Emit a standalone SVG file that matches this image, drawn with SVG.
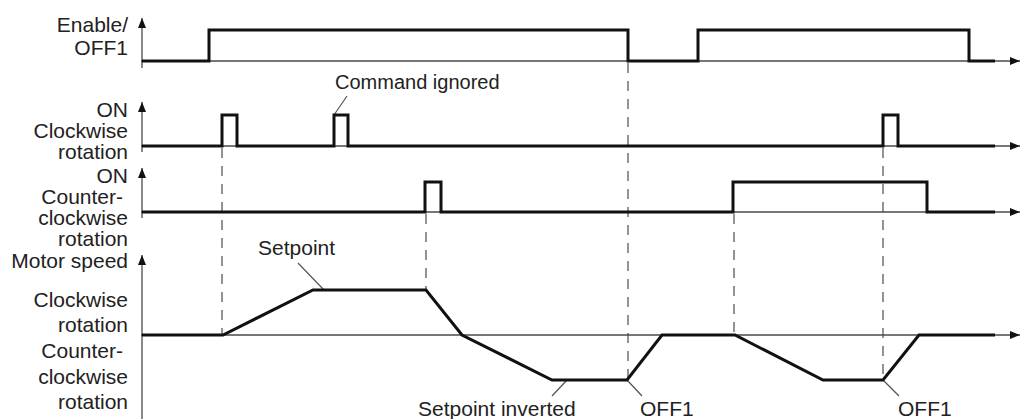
<svg xmlns="http://www.w3.org/2000/svg" width="1021" height="419" viewBox="0 0 1021 419">
<style>
.ax{stroke:#4a4a4a;stroke-width:1.3;fill:none}
.sig{stroke:#111;stroke-width:3;fill:none;stroke-linejoin:miter}
.dash{stroke:#707070;stroke-width:1.5;stroke-dasharray:10 8;fill:none}
.lead{stroke:#555;stroke-width:1.2;fill:none}
text{font-family:"Liberation Sans",Arial,sans-serif;font-size:21px;fill:#222}
.lbl{text-anchor:end}
</style>
<defs>
<marker id="arr" viewBox="0 0 10 8" refX="10" refY="4" markerWidth="10" markerHeight="8" markerUnits="userSpaceOnUse" orient="auto">
<path d="M0,0 L10,4 L0,8 z" fill="#111"/>
</marker>
</defs>
<rect width="1021" height="419" fill="#fff"/>
<g id="connectors">
<line class="dash" x1="222" y1="148" x2="222" y2="335"/>
<line class="dash" x1="426" y1="214" x2="426" y2="290"/>
<line class="dash" x1="628" y1="63" x2="628" y2="380"/>
<line class="dash" x1="734" y1="214" x2="734" y2="335"/>
<line class="dash" x1="883" y1="148" x2="883" y2="380"/>
<line class="lead" x1="347" y1="96" x2="334" y2="115"/>
<line class="lead" x1="298" y1="263" x2="324" y2="290"/>
<line class="lead" x1="567" y1="380" x2="552" y2="396"/>
<line class="lead" x1="627" y1="380" x2="642" y2="396"/>
<line class="lead" x1="883" y1="380" x2="899" y2="396"/>
</g>
<g id="enable">
<line class="ax" x1="142" y1="68" x2="142" y2="18" marker-end="url(#arr)"/>
<line class="ax" x1="141" y1="61" x2="1020" y2="61" marker-end="url(#arr)"/>
<polyline class="sig" points="142,61 209,61 209,30 628,30 628,61 698,61 698,30 969,30 969,61 995,61"/>
<text class="lbl" x="128" y="32">Enable/</text>
<text class="lbl" x="128" y="55">OFF1</text>
</g>
<g id="cw">
<line class="ax" x1="142" y1="152" x2="142" y2="102" marker-end="url(#arr)"/>
<line class="ax" x1="141" y1="146" x2="1020" y2="146" marker-end="url(#arr)"/>
<polyline class="sig" points="142,146 222,146 222,115 237,115 237,146 334,146 334,115 348,115 348,146 883,146 883,115 898,115 898,146 995,146"/>
<text class="lbl" x="128" y="117">ON</text>
<text class="lbl" x="128" y="138">Clockwise</text>
<text class="lbl" x="128" y="159">rotation</text>
<text x="335" y="89" style="font-size:20px">Command ignored</text>
</g>
<g id="ccw">
<line class="ax" x1="142" y1="218" x2="142" y2="168" marker-end="url(#arr)"/>
<line class="ax" x1="141" y1="212" x2="1020" y2="212" marker-end="url(#arr)"/>
<polyline class="sig" points="142,212 425,212 425,182 441,182 441,212 733,212 733,182 927,182 927,212 995,212"/>
<text class="lbl" x="128" y="183">ON</text>
<text class="lbl" x="123" y="204">Counter-</text>
<text class="lbl" x="128" y="225">clockwise</text>
<text class="lbl" x="128" y="246">rotation</text>
</g>
<g id="speed">
<line class="ax" x1="142" y1="419" x2="142" y2="255" marker-end="url(#arr)"/>
<line class="ax" x1="141" y1="335" x2="1020" y2="335" marker-end="url(#arr)"/>
<polyline class="sig" points="142,335 223,335 313,290 426,290 462,335 552,380 627,380 662,335 735,335 823,380 883,380 919,335 995,335"/>
<text class="lbl" x="128" y="268">Motor speed</text>
<text class="lbl" x="128" y="307">Clockwise</text>
<text class="lbl" x="128" y="332">rotation</text>
<text class="lbl" x="123" y="358">Counter-</text>
<text class="lbl" x="128" y="384">clockwise</text>
<text class="lbl" x="128" y="409">rotation</text>
<text x="258" y="255">Setpoint</text>
<text x="418" y="416">Setpoint inverted</text>
<text x="640" y="416">OFF1</text>
<text x="898" y="416">OFF1</text>
</g>
</svg>
